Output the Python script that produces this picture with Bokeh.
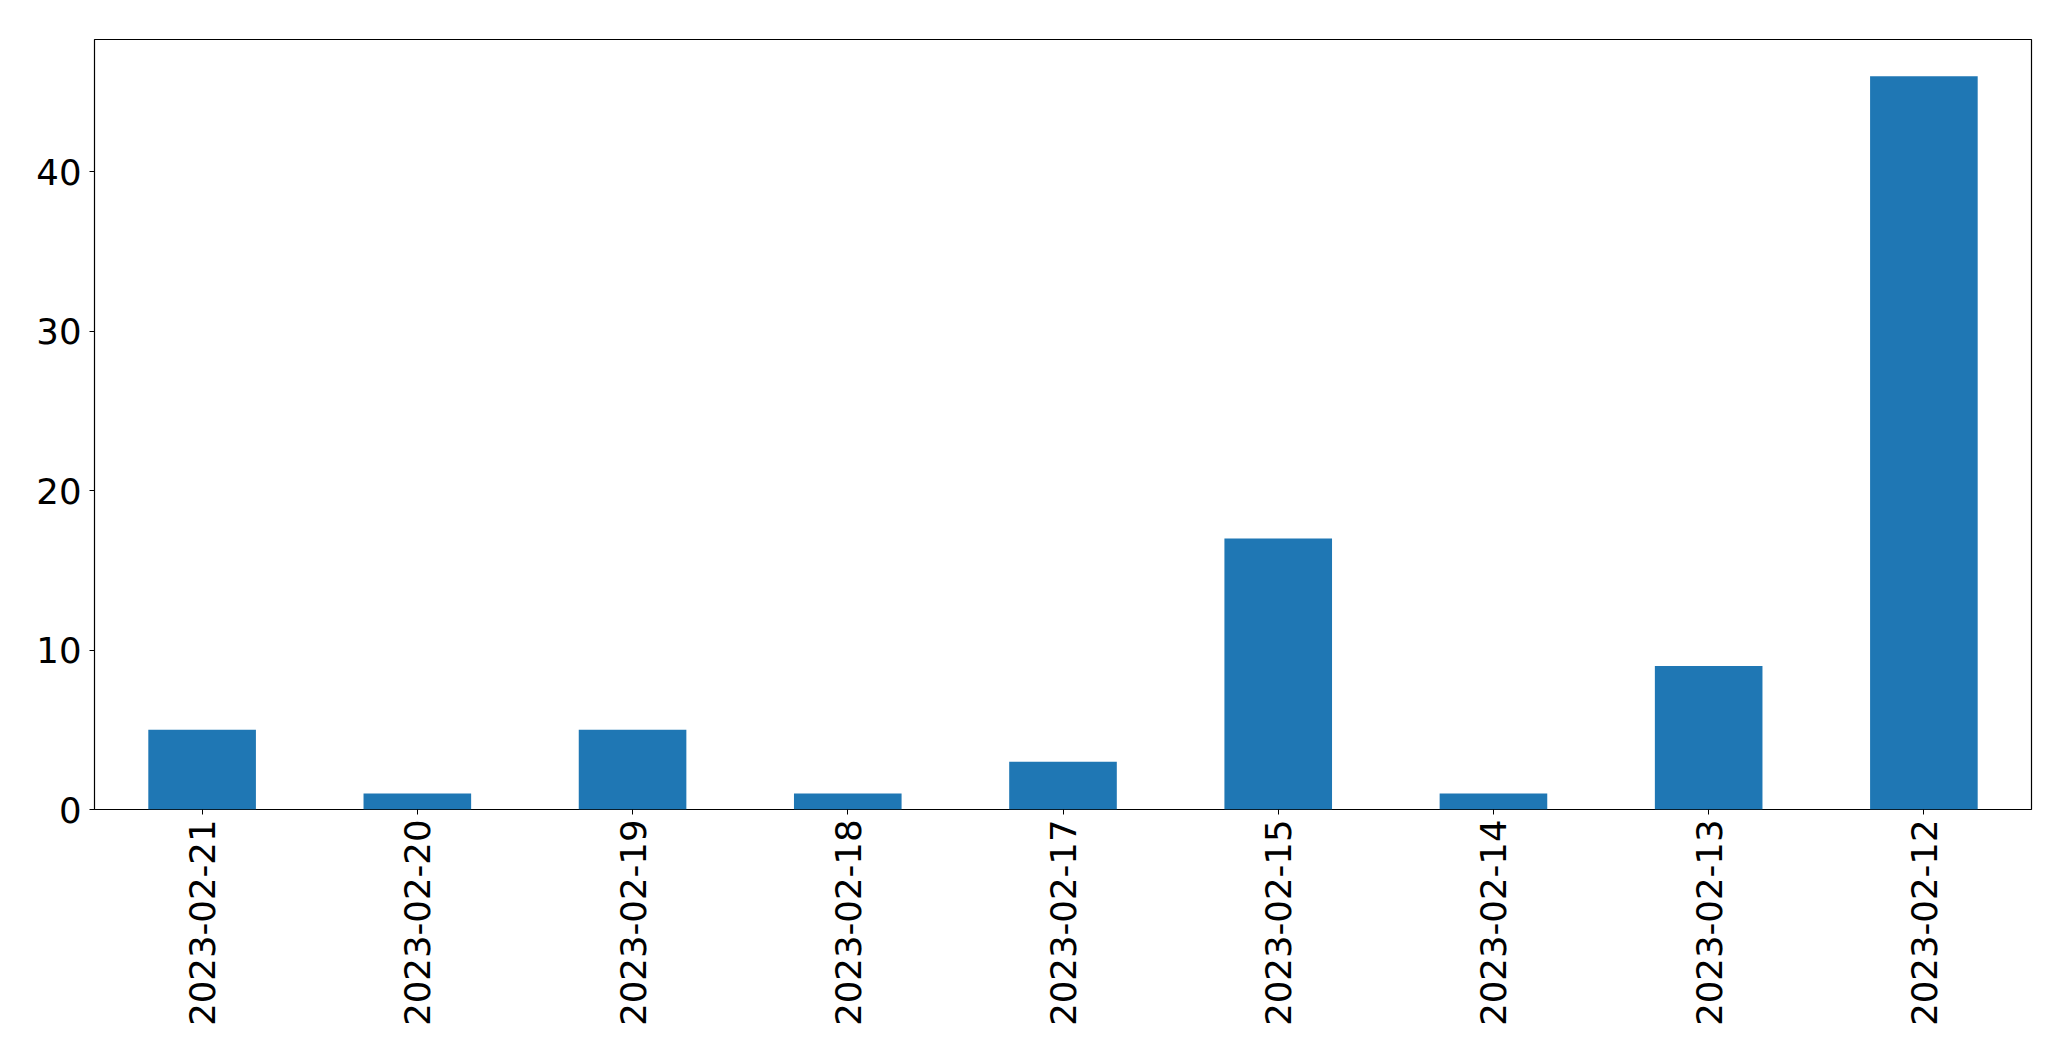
import math
from bokeh.plotting import figure
from bokeh.models import FactorRange, Range1d, FixedTicker, ColumnDataSource
from bokeh.embed import file_html
from bokeh.resources import INLINE

dates = ["2023-02-21", "2023-02-20", "2023-02-19", "2023-02-18", "2023-02-17",
         "2023-02-15", "2023-02-14", "2023-02-13", "2023-02-12"]
counts = [5, 1, 5, 1, 3, 17, 1, 9, 46]
y_ticks = [0, 10, 20, 30, 40]

src = ColumnDataSource(dict(date=dates, count=counts))

p = figure(x_range=FactorRange(*dates), y_range=Range1d(0, max(counts) * 1.05),
           frame_width=1937, frame_height=770,
           min_border_left=94, min_border_right=30, min_border_top=39, min_border_bottom=240,
           output_backend="svg", toolbar_location=None)

p.vbar(x="date", top="count", width=0.5, source=src, color="#1f77b4", line_color=None)

p.xgrid.visible = False
p.ygrid.visible = False
p.outline_line_color = "black"
p.outline_line_width = 1.2
p.outline_line_alpha = 1.0

p.yaxis.ticker = FixedTicker(ticks=y_ticks)
for ax in (p.xaxis[0], p.yaxis[0]):
    ax.axis_line_color = None
    ax.major_tick_out = 5
    ax.major_tick_in = 0
    ax.minor_tick_out = 0
    ax.minor_tick_in = 0
    ax.major_tick_line_color = "black"
    ax.major_label_text_font = "DejaVu Sans"
    ax.major_label_text_font_size = "35.5px"
    ax.major_label_text_color = "black"

p.yaxis.major_label_standoff = 8
p.xaxis.major_label_standoff = 5
p.xaxis.major_label_orientation = math.pi / 2

open("out.html", "w").write(file_html(p, INLINE))
